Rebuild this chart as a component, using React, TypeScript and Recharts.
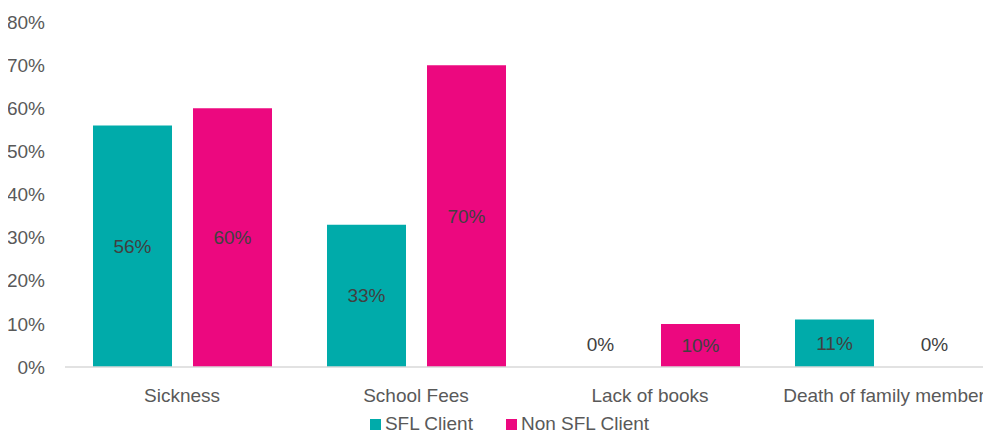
import React from "react";
import { BarChart, Bar, XAxis, YAxis, Legend, LabelList } from "recharts";

const categories = ["Sickness", "School Fees", "Lack of books", "Death of family member"];
const sflClient = [56, 33, 0, 11];
const nonSflClient = [60, 70, 10, 0];
const yTicks = [0, 10, 20, 30, 40, 50, 60, 70, 80];

const data = categories.map((name, i) => ({
  name,
  sfl: sflClient[i],
  nonSfl: nonSflClient[i],
}));

const FONT = "'Liberation Sans', Arial, sans-serif";
const TEAL = "#00ABAA";
const PINK = "#EC087F";

const seriesInfo = [
  { key: "sfl", name: "SFL Client", color: TEAL },
  { key: "nonSfl", name: "Non SFL Client", color: PINK },
];

const renderLabel = (props: any) => {
  const { x, y, width, height, value } = props;
  const cx = Number(x) + Number(width) / 2;
  const h = Number(height) || 0;
  const cy = h > 1 ? Number(y) + h / 2 : Number(y) - 22;
  return (
    <text
      x={cx}
      y={cy}
      textAnchor="middle"
      dominantBaseline="central"
      fill="#404040"
      fontSize={19}
      fontFamily={FONT}
    >
      {value}%
    </text>
  );
};

const renderLegend = () => (
  <div
    style={{
      display: "flex",
      justifyContent: "center",
      alignItems: "center",
      paddingLeft: 18,
      paddingTop: 6,
      fontFamily: FONT,
      fontSize: 19,
      color: "#595959",
    }}
  >
    {seriesInfo.map((s, i) => (
      <div
        key={s.key}
        style={{ display: "flex", alignItems: "center", marginRight: i === 0 ? 33 : 0 }}
      >
        <span
          style={{ display: "inline-block", width: 11, height: 11, background: s.color, marginRight: 4 }}
        />
        <span>{s.name}</span>
      </div>
    ))}
  </div>
);

export default function App() {
  return (
    <div
      style={{
        marginLeft: -8,
        marginTop: -8,
        width: 991,
        height: 438,
        overflow: "hidden",
        background: "#fff",
      }}
    >
      <BarChart
        width={1010}
        height={438}
        data={data}
        margin={{ top: 22, right: 9, left: 0, bottom: 0 }}
        barSize={79}
        barGap={21}
        style={{ fontFamily: FONT }}
      >
        <XAxis
          dataKey="name"
          height={40}
          tickLine={false}
          tickSize={0}
          tickMargin={22}
          axisLine={{ stroke: "#D9D9D9", strokeWidth: 1.5 }}
          tick={{ fill: "#595959", fontSize: 19, fontFamily: FONT }}
          interval={0}
        />
        <YAxis
          width={65}
          domain={[0, 80]}
          ticks={yTicks}
          axisLine={false}
          tickLine={false}
          tickSize={0}
          tickMargin={20}
          tickFormatter={(v: number) => `${v}%`}
          tick={{ fill: "#595959", fontSize: 19, fontFamily: FONT }}
        />
        <Legend verticalAlign="bottom" height={31} content={renderLegend} />
        <Bar dataKey="sfl" name="SFL Client" fill={TEAL} isAnimationActive={false} minPointSize={0.01}>
          <LabelList dataKey="sfl" content={renderLabel} />
        </Bar>
        <Bar dataKey="nonSfl" name="Non SFL Client" fill={PINK} isAnimationActive={false} minPointSize={0.01}>
          <LabelList dataKey="nonSfl" content={renderLabel} />
        </Bar>
      </BarChart>
    </div>
  );
}
